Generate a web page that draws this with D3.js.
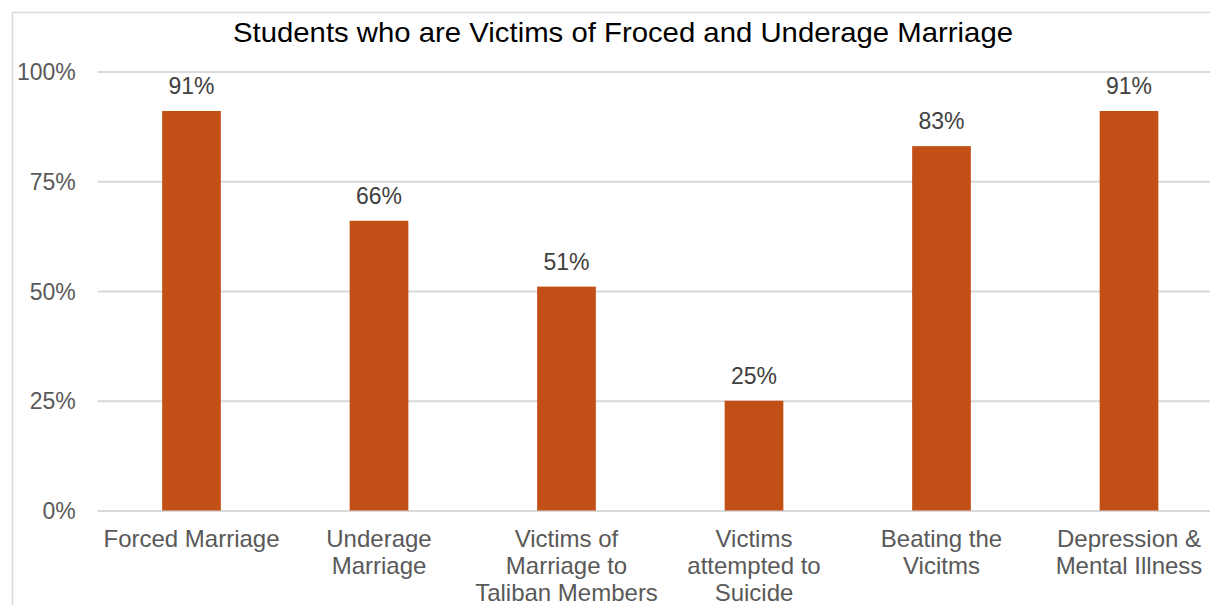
<!DOCTYPE html>
<html>
<head>
<meta charset="utf-8">
<script src="https://cdn.jsdelivr.net/npm/d3@7"></script>
<style>
  html, body { margin: 0; padding: 0; background: #fff; overflow: hidden; }
  svg { display: block; font-family: "Liberation Sans", Arial, sans-serif; }
</style>
</head>
<body>
<svg id="chart" width="1210" height="605"></svg>
<script>
// Chart data
const categories = [
    ['Forced Marriage'],
    ['Underage', 'Marriage'],
    ['Victims of', 'Marriage to', 'Taliban Members'],
    ['Victims', 'attempted to', 'Suicide'],
    ['Beating the', 'Vicitms'],
    ['Depression &', 'Mental Illness']
];
const values = [91, 66, 51, 25, 83, 91];
const yTicks = [0, 25, 50, 75, 100];
const title = 'Students who are Victims of Froced and Underage Marriage';

const svg = d3.select('#chart');

// Outer chart border (runs past the right and bottom edge)
svg.append('rect')
    .attr('x', 12.5).attr('y', 12.5)
    .attr('width', 1222).attr('height', 620)
    .attr('fill', 'none')
    .attr('stroke', '#d9d9d9')
    .attr('stroke-width', 1.5);

// Scales
const x = d3.scaleBand()
    .domain(d3.range(categories.length))
    .range([97.75, 1222.75])
    .paddingInner(0.687)
    .paddingOuter(0.3435);

const y = d3.scaleLinear()
    .domain([0, 100])
    .range([510.5, 71.5]);

// Gridlines + y tick labels
const yAxis = d3.axisLeft(y)
    .tickValues(yTicks)
    .tickSize(-(1222.75 - 97.75))
    .tickPadding(22)
    .tickFormat(d => d + '%');

const gy = svg.append('g')
    .attr('transform', 'translate(97.75,0)')
    .call(yAxis);
gy.select('.domain').remove();
gy.selectAll('.tick line')
    .attr('stroke', '#d9d9d9')
    .attr('stroke-width', 2);
gy.selectAll('.tick text')
    .attr('fill', '#595959')
    .attr('font-size', '23px')
    .attr('dy', '0.35em');

// Bars
svg.append('g').selectAll('rect')
    .data(values)
    .join('rect')
    .attr('x', (d, i) => x(i))
    .attr('y', d => y(d))
    .attr('width', x.bandwidth())
    .attr('height', d => y(0) - y(d))
    .attr('fill', '#C24F16');

// Value labels
svg.append('g').selectAll('text')
    .data(values)
    .join('text')
    .attr('x', (d, i) => x(i) + x.bandwidth() / 2)
    .attr('y', d => y(d) - 17)
    .attr('text-anchor', 'middle')
    .attr('font-size', '23px')
    .attr('fill', '#404040')
    .text(d => d + '%');

// Category labels
const cat = svg.append('g').selectAll('text')
    .data(categories)
    .join('text')
    .attr('x', (d, i) => x(i) + x.bandwidth() / 2)
    .attr('y', 547)
    .attr('text-anchor', 'middle')
    .attr('font-size', '24px')
    .attr('fill', '#595959');
cat.selectAll('tspan')
    .data(d => d)
    .join('tspan')
    .attr('x', function() { return this.parentNode.getAttribute('x'); })
    .attr('dy', (d, i) => i === 0 ? 0 : 27)
    .text(d => d);

// Title
svg.append('text')
    .attr('x', 623)
    .attr('y', 42)
    .attr('text-anchor', 'middle')
    .attr('font-size', '28px')
    .attr('textLength', 780)
    .attr('lengthAdjust', 'spacingAndGlyphs')
    .attr('fill', '#000')
    .text(title);
</script>
</body>
</html>
